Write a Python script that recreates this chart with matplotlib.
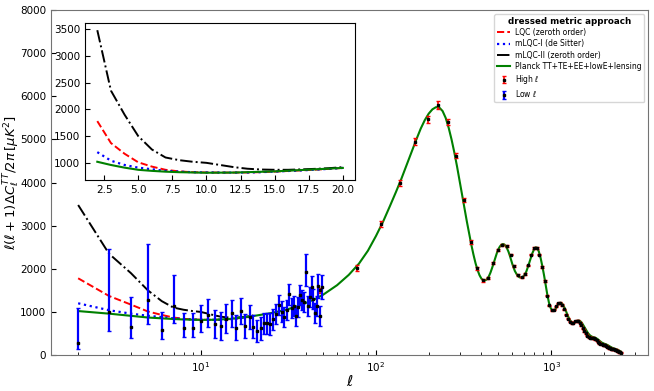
import matplotlib
matplotlib.use("Agg")
import matplotlib.pyplot as plt
import numpy as np

# model curves at low multipoles
ell_mod = [2, 3, 4, 5, 6, 7, 8, 9, 10, 11, 12, 13, 14, 15, 16, 17, 18, 19, 20]
lqc = [1780, 1370, 1170, 1010, 930, 870, 840, 825, 820, 818, 818, 820, 826, 836, 848, 860, 873, 888, 905]
mlqc1 = [1200, 1040, 960, 910, 880, 850, 835, 825, 820, 818, 818, 820, 826, 836, 848, 860, 873, 888, 905]
mlqc2 = [3480, 2350, 1900, 1500, 1250, 1100, 1050, 1020, 1000, 960, 920, 890, 875, 870, 870, 878, 888, 900, 920]

# Planck best fit TT spectrum
ell_th = [2, 3, 4, 5, 6, 7, 8, 10, 12, 15, 20, 25, 30, 35, 40, 45, 50, 60, 70, 80, 90,
          100, 110, 120, 130, 140, 150, 160, 170, 180, 190, 200, 210, 220, 230, 240, 250,
          260, 270, 280, 290, 300, 310, 320, 330, 340, 350, 360, 370, 380, 390, 400, 410,
          420, 430, 440, 450, 460, 470, 480, 490, 500, 510, 520, 530, 540, 550, 560, 570,
          580, 590, 600, 620, 640, 660, 680, 700, 720, 740, 760, 780, 800, 815, 830, 850,
          870, 890, 910, 930, 950, 970, 990, 1010, 1030, 1050, 1070, 1090, 1110, 1130, 1150,
          1170, 1200, 1230, 1260, 1290, 1320, 1350, 1380, 1410, 1440, 1470, 1500, 1540, 1580,
          1620, 1660, 1700, 1750, 1800, 1850, 1900, 1950, 2000, 2050, 2100, 2150, 2200, 2250,
          2300, 2350, 2400, 2450, 2500]
dl_th = [1020, 960, 910, 870, 850, 835, 825, 815, 818, 840, 905, 970, 1040, 1120, 1210, 1300,
         1400, 1620, 1860, 2120, 2420, 2760, 3100, 3450, 3780, 4100, 4420, 4720, 5000, 5250,
         5450, 5600, 5700, 5750, 5740, 5660, 5500, 5270, 5000, 4700, 4380, 4050, 3720, 3400,
         3100, 2820, 2560, 2330, 2130, 1970, 1850, 1770, 1730, 1730, 1760, 1820, 1910, 2020,
         2140, 2260, 2370, 2460, 2520, 2560, 2575, 2565, 2530, 2470, 2400, 2310, 2210, 2110,
         1950, 1850, 1800, 1800, 1840, 1930, 2070, 2220, 2360, 2460, 2500, 2490, 2400, 2250,
         2060, 1850, 1620, 1400, 1220, 1100, 1040, 1030, 1050, 1100, 1160, 1200, 1215, 1200,
         1160, 1070, 960, 860, 790, 750, 745, 770, 795, 800, 780, 740, 660, 580, 510, 460,
         430, 410, 395, 360, 320, 285, 265, 250, 230, 205, 180, 160, 145, 135, 120, 100, 80]

# low-ell data
ell_low = list(range(2, 50))
dl_low = [290, 990, 640, 1280, 590, 1140, 635, 635, 790, 930, 719, 680, 843, 966, 634, 1028,
          680, 889, 657, 564, 618, 734, 734, 719, 827, 951, 1159, 1005, 889, 1043, 1407, 1082,
          1136, 904, 1121, 1391, 1275, 1237, 1924, 1136, 1352, 1584, 1291, 966, 1136, 1600,
          904, 1569]
low_lo = [150, 430, 250, 550, 225, 390, 225, 225, 250, 270, 330, 320, 330, 310, 290, 300,
          280, 280, 270, 260, 260, 250, 250, 250, 240, 240, 240, 240, 230, 230, 250, 230,
          230, 230, 230, 240, 240, 230, 330, 230, 230, 260, 230, 230, 230, 270, 230, 280]
low_hi = [800, 1460, 710, 1290, 400, 710, 335, 335, 370, 380, 330, 320, 330, 310, 290, 300,
          280, 280, 270, 260, 260, 250, 250, 250, 240, 240, 240, 240, 230, 230, 250, 230,
          230, 230, 230, 240, 240, 230, 420, 230, 230, 260, 230, 230, 230, 270, 230, 280]

# high-ell binned data
ell_high = [47.7, 77.6, 107.5, 137.5, 167.4, 197.4, 227.3, 257.3, 287.2, 317.2, 347.1, 377.1,
            407, 437, 467, 497, 527, 557, 587, 617, 647, 677, 707, 737, 767, 797, 827, 857,
            887, 917, 947, 977, 1006, 1036, 1066, 1096, 1126, 1156, 1186, 1216, 1246, 1276,
            1306, 1336, 1366, 1396, 1426, 1456, 1486, 1516, 1546, 1576, 1606, 1636, 1666,
            1696, 1726, 1756, 1786, 1816, 1846, 1876, 1906, 1936, 1966, 1996, 2026, 2056,
            2086, 2116, 2146, 2176, 2206, 2236, 2266, 2296, 2326, 2356, 2386, 2416, 2446,
            2476, 2496]
dl_high = [1500, 2030, 3050, 4000, 4950, 5470, 5800, 5400, 4620, 3600, 2620, 2010, 1730, 1790,
           2130, 2430, 2560, 2520, 2330, 2060, 1860, 1800, 1880, 2080, 2330, 2480, 2490, 2330,
           2050, 1720, 1380, 1150, 1040, 1050, 1130, 1200, 1210, 1160, 1060, 940, 840, 770,
           740, 750, 780, 800, 790, 750, 690, 620, 560, 500, 450, 420, 405, 400, 395, 385,
           365, 340, 310, 280, 260, 245, 240, 235, 228, 215, 195, 180, 165, 155, 148, 140,
           135, 130, 125, 115, 100, 85, 72, 60, 55]
high_err = [60, 70, 70, 70, 80, 80, 90, 70, 60, 50, 40, 30, 30, 25, 25, 25, 25, 25, 20, 20,
            20, 20, 20, 20, 20, 20, 20, 20, 20, 20, 15, 15, 15, 15, 15, 15, 15, 15, 15, 15,
            15, 15, 15, 15, 15, 15, 15, 15, 15, 15, 15, 15, 15, 15, 15, 15, 15, 15, 15, 15,
            15, 15, 15, 15, 15, 15, 15, 15, 15, 15, 15, 15, 15, 15, 15, 15, 15, 15, 15, 15,
            15, 15, 15]

fig = plt.figure(figsize=(6.54, 3.91), dpi=100)
ax = fig.add_axes([0.078, 0.092, 0.913, 0.882])

ax.plot(ell_mod, lqc, '--', color='red', lw=1.4, label='LQC (zeroth order)')
ax.plot(ell_mod, mlqc1, ':', color='blue', lw=1.6, label='mLQC-I (de Sitter)')
ax.plot(ell_mod, mlqc2, '-.', color='black', lw=1.4, label='mLQC-II (zeroth order)')
ax.plot(ell_th, dl_th, '-', color='green', lw=1.5, label='Planck TT+TE+EE+lowE+lensing')
ax.errorbar(ell_high, dl_high, yerr=high_err, fmt='s', color='black', ms=2, ecolor='red',
            elinewidth=1.2, capsize=1.5, label=r'High $\ell$')
ax.errorbar(ell_low, dl_low, yerr=[low_lo, low_hi], fmt='s', color='black', ms=2,
            ecolor='blue', elinewidth=1.6, capsize=1.5, label=r'Low $\ell$')

ax.set_xscale('log')
ax.set_ylim(0, 8000)
ax.set_xlabel(r'$\ell$', fontsize=11)
ax.set_ylabel(r'$\ell(\ell+1)\Delta C_\ell^{TT}/2\pi\,[\mu K^2]$', fontsize=9.5)
ax.xaxis.set_label_coords(0.5, -0.055)
ax.yaxis.set_label_coords(-0.048, 0.5)
ax.tick_params(which='both', direction='in', labelsize=7.5)
for s in ax.spines.values():
    s.set_color('0.45')

leg = ax.legend(loc='upper right', fontsize=5.5, title='dressed metric approach',
                title_fontproperties={'weight': 'bold', 'size': 6.3}, handlelength=1.8,
                labelspacing=0.3, borderpad=0.35, handletextpad=0.6, handleheight=0.6)

# inset
ins = fig.add_axes([0.130, 0.540, 0.413, 0.401])
ins.plot(ell_mod, lqc, '--', color='red', lw=1.4)
ins.plot(ell_mod, mlqc1, ':', color='blue', lw=1.6)
ins.plot(ell_mod, mlqc2, '-.', color='black', lw=1.4)
ins.plot(ell_th[:11], dl_th[:11], '-', color='green', lw=1.5)
ins.tick_params(direction='in', labelsize=7.5)

fig.savefig('out.png', dpi=100)
